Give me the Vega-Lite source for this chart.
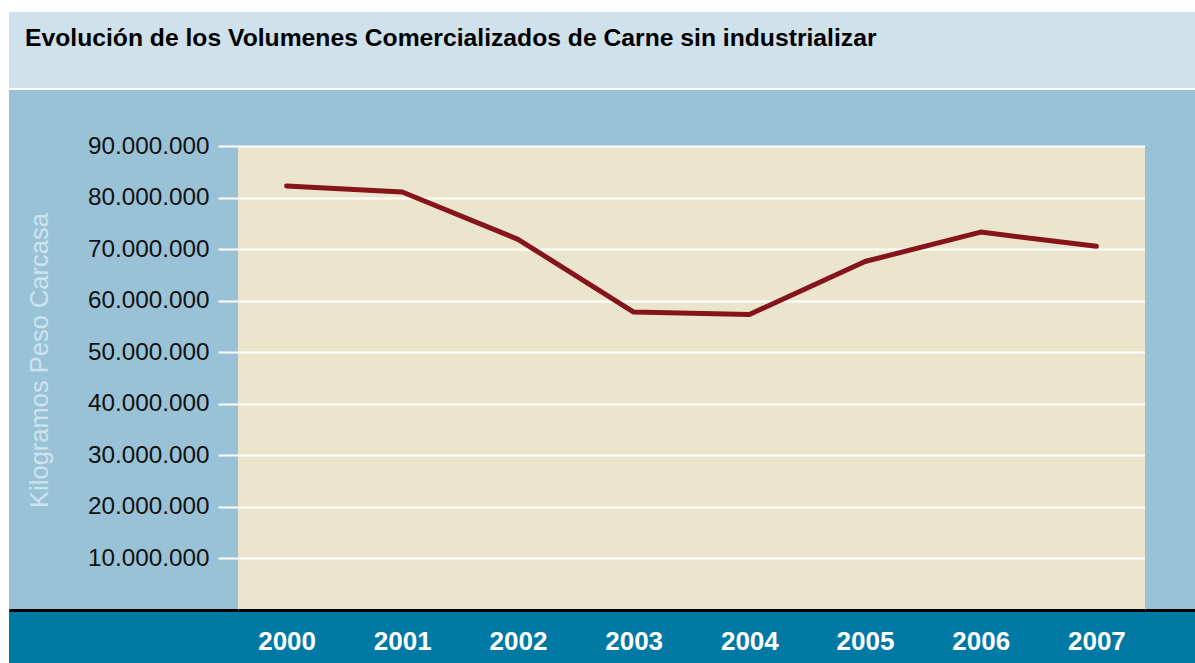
{
  "$schema": "https://vega.github.io/schema/vega-lite/v6.json",
  "background": "#0079A5",
  "padding": 0,
  "spacing": 0,
  "bounds": "flush",
  "config": {
    "view": {"stroke": null},
    "font": "Liberation Sans",
    "locale": {"number": {"decimal": ",", "thousands": ".", "grouping": [3], "currency": ["", " €"]}}
  },
  "hconcat": [
    {
      "width": 9, "height": 663,
      "view": {"fill": "#FFFFFF", "stroke": null},
      "data": {"values": [{}]},
      "mark": {"type": "point", "opacity": 0}
    },
    {
      "spacing": 0,
      "bounds": "flush",
      "vconcat": [
        {
          "width": 1186, "height": 12,
          "view": {"fill": "#FFFFFF", "stroke": null},
          "data": {"values": [{}]},
          "mark": {"type": "point", "opacity": 0}
        },
        {
          "width": 1186, "height": 76,
          "view": {"fill": "#CFE1EA", "stroke": null},
          "title": {
            "text": "Evolución de los Volumenes Comercializados de Carne sin industrializar",
            "anchor": "start",
            "frame": "group",
            "orient": "top",
            "offset": -34,
            "dx": 16,
            "dy": 25,
            "baseline": "alphabetic",
            "font": "Liberation Sans",
            "fontSize": 24.7,
            "fontWeight": "bold",
            "color": "#000000"
          },
          "data": {"values": [{}]},
          "mark": {"type": "point", "opacity": 0}
        },
        {
          "width": 1186, "height": 2,
          "view": {"fill": "#FFFFFF", "stroke": null},
          "data": {"values": [{}]},
          "mark": {"type": "point", "opacity": 0}
        },
        {
          "width": 1186, "height": 56,
          "view": {"fill": "#9AC2D6", "stroke": null},
          "data": {"values": [{}]},
          "mark": {"type": "point", "opacity": 0}
        },
        {
          "spacing": 0,
          "bounds": "flush",
          "hconcat": [
            {
              "width": 229, "height": 464,
              "view": {"fill": "#9AC2D6", "stroke": null},
              "data": {"values": [{"k": "a"}]},
              "mark": {"type": "point", "opacity": 0},
              "encoding": {
                "x": {"field": "k", "type": "nominal", "axis": {"title": null, "labels": false, "ticks": false, "grid": false, "domain": true, "domainColor": "#000000", "domainWidth": 3}}
              }
            },
            {
              "width": 907, "height": 464,
              "view": {"fill": "#EBE5CD", "stroke": null},
              "data": {"values": [
                {"year": "2000", "kg": 82240000},
                {"year": "2001", "kg": 81080000},
                {"year": "2002", "kg": 71900000},
                {"year": "2003", "kg": 57800000},
                {"year": "2004", "kg": 57300000},
                {"year": "2005", "kg": 67600000},
                {"year": "2006", "kg": 73300000},
                {"year": "2007", "kg": 70550000}
              ]},
              "mark": {"type": "line", "color": "#85141B", "strokeWidth": 5, "strokeCap": "round", "strokeJoin": "round"},
              "encoding": {
                "x": {
                  "field": "year", "type": "ordinal",
                  "scale": {"type": "point", "padding": 0.42},
                  "axis": {
                    "title": null, "labelAngle": 0, "domain": true, "domainColor": "#000000", "domainWidth": 3,
                    "ticks": false, "grid": false,
                    "labelColor": "#FFFFFF", "labelFont": "Liberation Sans", "labelFontWeight": "bold",
                    "labelFontSize": 26, "labelPadding": 18
                  }
                },
                "y": {
                  "field": "kg", "type": "quantitative",
                  "scale": {"domain": [0, 90000000], "nice": false},
                  "axis": {
                    "title": "Kilogramos Peso Carcasa",
                    "values": [10000000, 20000000, 30000000, 40000000, 50000000, 60000000, 70000000, 80000000, 90000000],
                    "format": ",.0f",
                    "domain": false,
                    "tickColor": "#FFFFFF", "tickWidth": 2, "tickSize": 20,
                    "grid": true, "gridColor": "#FFFFFF", "gridWidth": 2, "gridOpacity": 1,
                    "labelFont": "Liberation Sans", "labelFontSize": 24.3, "labelColor": "#111111",
                    "labelPadding": 9, "labelFlush": false, "labelOverlap": false,
                    "titleColor": "#CDE4EF", "titleFont": "Liberation Sans", "titleFontSize": 25.5,
                    "titleFontWeight": "normal", "titleAngle": -90, "titleAlign": "center",
                    "titleBaseline": "alphabetic", "titleX": -191, "titleY": 214
                  }
                }
              }
            },
            {
              "width": 50, "height": 464,
              "view": {"fill": "#9AC2D6", "stroke": null},
              "data": {"values": [{"k": "a"}]},
              "mark": {"type": "point", "opacity": 0},
              "encoding": {
                "x": {"field": "k", "type": "nominal", "axis": {"title": null, "labels": false, "ticks": false, "grid": false, "domain": true, "domainColor": "#000000", "domainWidth": 3}}
              }
            }
          ]
        }
      ]
    }
  ]
}
